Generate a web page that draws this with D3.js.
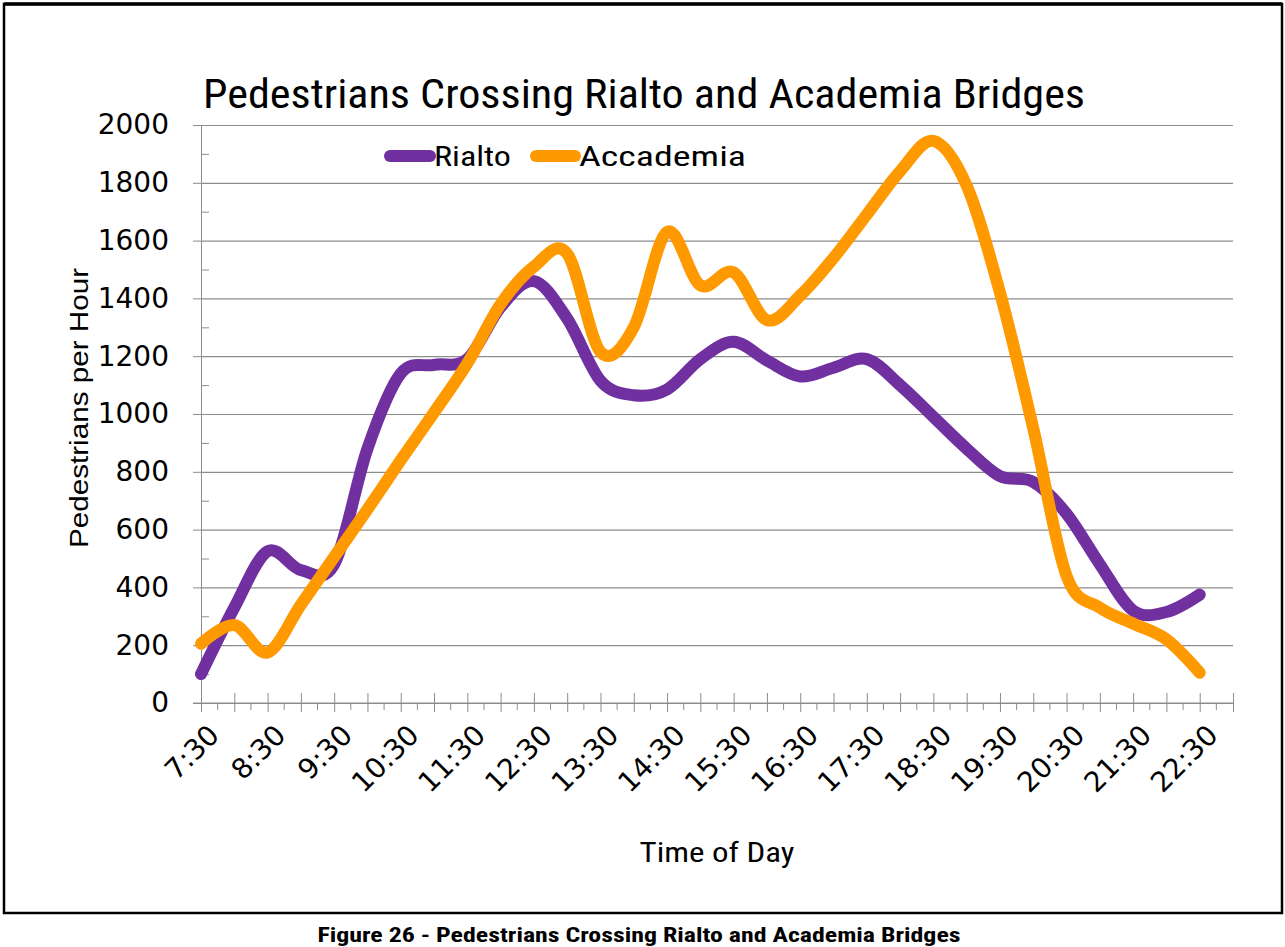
<!DOCTYPE html>
<html>
<head>
<meta charset="utf-8">
<script src="https://cdn.jsdelivr.net/npm/d3@7"></script>
<style>
  body { margin: 0; background: #fff; }
  svg { display: block; }
</style>
</head>
<body>
<div id="chart"></div>
<script>
// half-hour categories on the axis (last one carries no data)
var times = ["7:30","8:00","8:30","9:00","9:30","10:00","10:30","11:00","11:30","12:00",
             "12:30","13:00","13:30","14:00","14:30","15:00","15:30","16:00","16:30","17:00",
             "17:30","18:00","18:30","19:00","19:30","20:00","20:30","21:00","21:30","22:00",
             "22:30","23:00"];

var rialto = [100, 330, 525, 460, 480, 880, 1140, 1170, 1190, 1370,
              1460, 1330, 1115, 1065, 1085, 1190, 1250, 1185, 1130, 1160,
              1190, 1100, 990, 880, 785, 765, 655, 480, 320, 315,
              375];

var accademia = [205, 270, 175, 340, 505, 670, 840, 1005, 1175, 1380,
                 1510, 1555, 1215, 1300, 1630, 1445, 1490, 1325, 1410, 1540,
                 1690, 1840, 1945, 1790, 1420, 950, 440, 330, 275, 220,
                 105];

var yTicks = [0, 200, 400, 600, 800, 1000, 1200, 1400, 1600, 1800, 2000];
var yMinor = [100, 300, 500, 700, 900, 1100, 1300, 1500, 1700, 1900];

var series = [
  {name: "Rialto", values: rialto, color: "#7030A0"},
  {name: "Accademia", values: accademia, color: "#FF9900"}
];

var width = 1285, height = 947;
var plotLeft = 201, plotRight = 1233, plotTop = 125, plotBottom = 703;

var svg = d3.select("#chart").append("svg")
    .attr("width", width)
    .attr("height", height);

var x = d3.scalePoint().domain(times).range([plotLeft, plotRight]);
var y = d3.scaleLinear().domain([0, 2000]).range([plotBottom, plotTop]);

var narrow = "'Liberation Sans Narrow','Arial Narrow','Roboto Condensed',Roboto,sans-serif";

// frame
svg.append("rect")
    .attr("x", 4).attr("y", 4)
    .attr("width", 1278).attr("height", 909)
    .attr("fill", "none").attr("stroke", "#000").attr("stroke-width", 2.5);
svg.append("line")
    .attr("x1", 4).attr("x2", 1282).attr("y1", 4).attr("y2", 4)
    .attr("stroke", "#000").attr("stroke-width", 3.5);

// gridlines
svg.append("g")
    .attr("transform", "translate(" + plotLeft + ",0)")
    .call(d3.axisLeft(y).tickValues(yTicks).tickSize(-(plotRight - plotLeft)).tickFormat(""))
    .call(function(g) {
        g.select(".domain").remove();
        g.selectAll("line").attr("stroke", "#8c8c8c").attr("stroke-width", 1.2);
    });

// y axis with labels
svg.append("g")
    .attr("transform", "translate(" + plotLeft + ",0)")
    .call(d3.axisLeft(y).tickValues(yTicks).tickSize(8).tickPadding(24).tickFormat(d3.format("d")))
    .call(function(g) {
        g.select(".domain").attr("stroke", "#8c8c8c");
        g.selectAll("line").attr("stroke", "#8c8c8c");
        g.selectAll("text")
            .attr("fill", "#000")
            .style("font", "28px 'DejaVu Sans', sans-serif");
    });

// minor y ticks, inside
svg.append("g")
    .attr("transform", "translate(" + plotLeft + ",0)")
    .call(d3.axisRight(y).tickValues(yMinor).tickSize(8).tickFormat(""))
    .call(function(g) {
        g.select(".domain").remove();
        g.selectAll("line").attr("stroke", "#8c8c8c");
    });

// x axis
svg.append("g")
    .attr("transform", "translate(0," + plotBottom + ")")
    .call(d3.axisBottom(x).tickSize(9).tickFormat(""))
    .call(function(g) {
        g.select(".domain").attr("stroke", "#8c8c8c").attr("d", "M" + (plotLeft - 8) + ",0H" + plotRight);
        g.selectAll("line").attr("stroke", "#8c8c8c").attr("y1", -10);
    });

// minor x ticks between categories
svg.append("g").selectAll("line")
    .data(times.slice(1))
    .enter().append("line")
    .attr("x1", function(d) { return x(d) - x.step() / 2; })
    .attr("x2", function(d) { return x(d) - x.step() / 2; })
    .attr("y1", plotBottom).attr("y2", plotBottom + 7)
    .attr("stroke", "#8c8c8c");

// x labels every hour, rotated
svg.append("g").selectAll("text")
    .data(times.filter(function(d) { return d.slice(-2) === "30" && d !== "23:00"; }))
    .enter().append("text")
    .attr("transform", function(d) { return "translate(" + (x(d) + 6) + "," + (plotBottom + 20) + ") rotate(-45)"; })
    .attr("text-anchor", "end")
    .attr("dy", "0.7em")
    .style("font", "28px 'DejaVu Sans', sans-serif")
    .text(function(d) { return d; });

// lines
var line = d3.line()
    .x(function(d, i) { return x(times[i]); })
    .y(function(d) { return y(d); })
    .curve(d3.curveCardinal);

svg.append("g").selectAll("path")
    .data(series)
    .enter().append("path")
    .attr("d", function(d) { return line(d.values); })
    .attr("fill", "none")
    .attr("stroke", function(d) { return d.color; })
    .attr("stroke-width", 12)
    .attr("stroke-linecap", "round")
    .attr("stroke-linejoin", "round");

// title
svg.append("text")
    .attr("x", 203).attr("y", 108)
    .attr("textLength", 882).attr("lengthAdjust", "spacingAndGlyphs")
    .style("font", "40px " + narrow)
    .text("Pedestrians Crossing Rialto and Academia Bridges");

// legend
var legendPos = [{sx: 390, tx: 434, w: 77}, {sx: 536, tx: 579, w: 167}];
var legend = svg.selectAll(".legend")
    .data(series)
    .enter().append("g")
    .attr("class", "legend");

legend.append("line")
    .attr("x1", function(d, i) { return legendPos[i].sx; })
    .attr("x2", function(d, i) { return legendPos[i].tx - 4; })
    .attr("y1", 156).attr("y2", 156)
    .attr("stroke", function(d) { return d.color; })
    .attr("stroke-width", 12)
    .attr("stroke-linecap", "round");

legend.append("text")
    .attr("x", function(d, i) { return legendPos[i].tx; })
    .attr("y", 166)
    .attr("textLength", function(d, i) { return legendPos[i].w; })
    .attr("lengthAdjust", "spacingAndGlyphs")
    .style("font", "27px " + narrow)
    .text(function(d) { return d.name; });

// axis titles
svg.append("text")
    .attr("transform", "translate(88,408) rotate(-90)")
    .attr("text-anchor", "middle")
    .attr("textLength", 280).attr("lengthAdjust", "spacingAndGlyphs")
    .style("font", "25px 'Liberation Sans', sans-serif")
    .text("Pedestrians per Hour");

svg.append("text")
    .attr("x", 717).attr("y", 862)
    .attr("text-anchor", "middle")
    .attr("textLength", 155).attr("lengthAdjust", "spacingAndGlyphs")
    .style("font", "28px " + narrow)
    .text("Time of Day");

// caption
svg.append("text")
    .attr("x", 639).attr("y", 942)
    .attr("text-anchor", "middle")
    .attr("textLength", 643).attr("lengthAdjust", "spacingAndGlyphs")
    .style("font", "bold 20px " + narrow)
    .text("Figure 26 - Pedestrians Crossing Rialto and Academia Bridges");
</script>
</body>
</html>
